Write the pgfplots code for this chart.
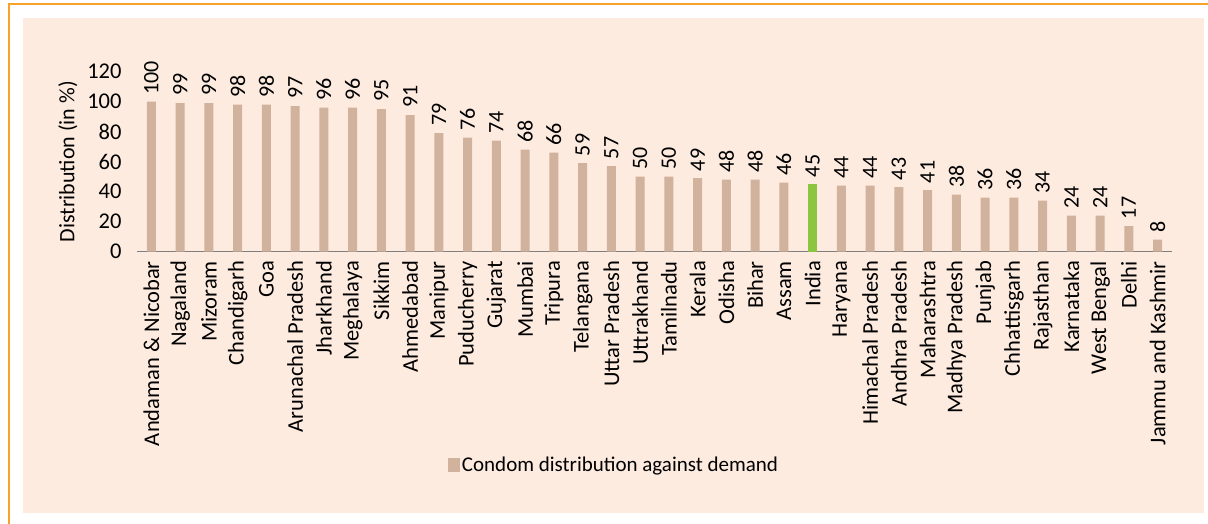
\documentclass[border=0pt]{standalone}
\usepackage{fontspec}
\setmainfont{Carlito}
\usepackage{pgfplots}
\pgfplotsset{compat=1.18}

\definecolor{panel}{HTML}{FDEBE0}
\definecolor{bartan}{HTML}{D1B29C}
\definecolor{indiagreen}{HTML}{8CC540}
\definecolor{frameorange}{HTML}{F7A329}
\definecolor{axisgray}{HTML}{7F7F7F}

\begin{document}
\begin{tikzpicture}[font=\fontsize{22.5bp}{26bp}\selectfont]
% page background, panel and the orange frame lines
\fill[white] (0bp,0bp) rectangle (1208bp,524bp);
\fill[panel] (23bp,11bp) rectangle (1204bp,506bp);
\draw[frameorange, line width=1.5bp] (8bp,520bp) -- (1208bp,520bp);
\draw[frameorange, line width=1.5bp] (9bp,520bp) -- (9bp,0bp);

\begin{axis}[
    at={(137bp,272.3bp)}, anchor=south west,
    scale only axis,
    width=1035bp, height=180bp,
    xmin=-0.5, xmax=35.5,
    ymin=0, ymax=120,
    ytick={0,20,...,120},
    xtick={0,...,35},
    xticklabels={
        Andaman \& Nicobar, Nagaland, Mizoram, Chandigarh, Goa,
        Arunachal Pradesh, Jharkhand, Meghalaya, Sikkim, Ahmedabad,
        Manipur, Puducherry, Gujarat, Mumbai, Tripura, Telangana,
        Uttar Pradesh, Uttrakhand, Tamilnadu, Kerala, Odisha, Bihar,
        Assam, India, Haryana, Himachal Pradesh, Andhra Pradesh,
        Maharashtra, Madhya Pradesh, Punjab, Chhattisgarh, Rajasthan,
        Karnataka, West Bengal, Delhi, Jammu and Kashmir},
    /pgf/number format/assume math mode=true,
    axis x line*=bottom,
    axis y line*=left,
    x axis line style={-, draw=axisgray, line width=1.5bp},
    y axis line style={draw=none},
    tick style={draw=none},
    xticklabel style={rotate=90, anchor=east, inner xsep=5bp},
    yticklabel style={xshift=-12bp},
    ylabel={Distribution (in \%)},
    every axis y label/.style={at={(axis description cs:-0.0667,0.5)}, rotate=90, anchor=center,
        font=\fontsize{22bp}{26bp}\selectfont},
    ybar, bar width=9bp, bar shift=0pt,
    nodes near coords,
    every node near coord/.append style={rotate=90, anchor=west, inner xsep=7bp, inner ysep=0pt, black,
        font=\fontsize{22bp}{26bp}\selectfont},
    legend style={at={(0.4609,-1.185)}, anchor=center, draw=none, fill=none,
        font=\fontsize{21bp}{25bp}\selectfont},
    legend image code/.code={\fill[bartan] (0bp,-6.5bp) rectangle (12bp,6.5bp);},
]
\addplot[fill=bartan, draw=none] coordinates {
    (0,100) (1,99) (2,99) (3,98) (4,98) (5,97) (6,96) (7,96) (8,95)
    (9,91) (10,79) (11,76) (12,74) (13,68) (14,66) (15,59) (16,57)
    (17,50) (18,50) (19,49) (20,48) (21,48) (22,46)
    (24,44) (25,44) (26,43) (27,41) (28,38) (29,36) (30,36) (31,34)
    (32,24) (33,24) (34,17) (35,8)
};
\addlegendentry{Condom distribution against demand}
\addplot[fill=indiagreen, draw=none, forget plot] coordinates {(23,45)};
\end{axis}

\pgfresetboundingbox
\useasboundingbox (0bp,0bp) rectangle (1208bp,524bp);
\end{tikzpicture}
\end{document}
